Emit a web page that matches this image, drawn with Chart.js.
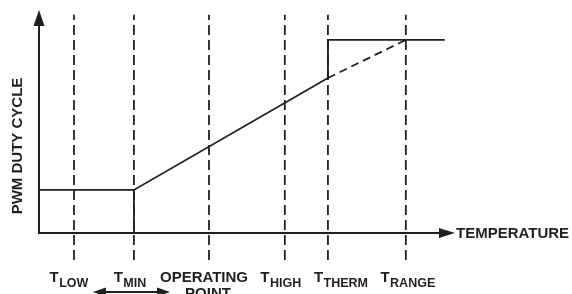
<!DOCTYPE html>
<html>
<head>
<meta charset="utf-8">
<script src="https://cdn.jsdelivr.net/npm/chart.js@4"></script>
<style>
html,body{margin:0;padding:0;background:#fff;}
canvas{display:block;}
</style>
</head>
<body>
<canvas id="c" width="572" height="294"></canvas>
<script>
// ---- data (temperature units on x, duty cycle % on y) ----
const tickNames = ['T', 'T', 'OPERATING', 'T', 'T', 'T'];
const tickSubs  = ['LOW', 'MIN', '', 'HIGH', 'THERM', 'RANGE'];
const tickSecondLine = ['', '', 'POINT', '', '', ''];
const tickPositions = [9.25, 25.1, 44.95, 65.0, 76.4, 97.0];

const dutyX = [0, 25.1, 76.4, 76.4, 107.3];
const dutyY = [22.3, 22.3, 80.3, 100, 100];
const minStepX = [25.1, 25.1];
const minStepY = [0, 22.3];
const extX = [76.4, 97.0];
const extY = [80.3, 100];

const guideLow = -14;
const guideHigh = 113;
const xMin = 0, xMax = 110;
const yMin = -14, yMax = 115.5;

const xAxisTitle = 'TEMPERATURE';
const yAxisTitle = 'PWM DUTY CYCLE';

// ---- styles ----
const INK = '#231f20';
const FONT = '"Liberation Sans", Arial, sans-serif';
const labelNudge = [-5, -4, -5, -4, 13, 2];

const pts = (xs, ys) => xs.map((x, i) => ({x, y: ys[i]}));

const datasets = [];
tickPositions.forEach(p => {
  datasets.push({
    data: [{x: p, y: guideLow}, {x: p, y: guideHigh}],
    borderColor: INK, borderWidth: 1.8, borderDash: [10, 5],
    pointRadius: 0, showLine: true, fill: false
  });
});
datasets.push({data: pts(extX, extY), borderColor: INK, borderWidth: 1.8, borderDash: [8, 5], pointRadius: 0, showLine: true, fill: false});
datasets.push({data: pts(minStepX, minStepY), borderColor: INK, borderWidth: 1.8, pointRadius: 0, showLine: true, fill: false});
datasets.push({data: pts(dutyX, dutyY), borderColor: INK, borderWidth: 1.8, pointRadius: 0, showLine: true, fill: false});

const decor = {
  id: 'decor',
  afterDatasetsDraw(chart) {
    const ctx = chart.ctx;
    const xs = chart.scales.x, ys = chart.scales.y;
    const x0 = xs.getPixelForValue(xMin), xEnd = xs.getPixelForValue(xMax);
    const y0 = ys.getPixelForValue(0), yTop = ys.getPixelForValue(yMax);
    ctx.save();
    ctx.strokeStyle = INK; ctx.fillStyle = INK; ctx.lineWidth = 2;
    ctx.setLineDash([]);
    // x axis
    ctx.beginPath(); ctx.moveTo(x0, y0); ctx.lineTo(xEnd - 14, y0); ctx.stroke();
    ctx.beginPath(); ctx.moveTo(xEnd, y0); ctx.lineTo(xEnd - 16, y0 - 5); ctx.lineTo(xEnd - 16, y0 + 5); ctx.closePath(); ctx.fill();
    // y axis
    ctx.beginPath(); ctx.moveTo(x0, y0 + 1); ctx.lineTo(x0, yTop + 14); ctx.stroke();
    ctx.beginPath(); ctx.moveTo(x0, yTop); ctx.lineTo(x0 - 5.5, yTop + 16); ctx.lineTo(x0 + 5.5, yTop + 16); ctx.closePath(); ctx.fill();

    // axis titles
    ctx.textBaseline = 'alphabetic';
    ctx.font = 'bold 15px ' + FONT;
    ctx.textAlign = 'left';
    ctx.fillText(xAxisTitle, xEnd + 1, y0 + 5.5);
    ctx.save();
    ctx.translate(22, 146);
    ctx.rotate(-Math.PI / 2);
    ctx.textAlign = 'center';
    ctx.font = 'bold 15px ' + FONT;
    ctx.fillText(yAxisTitle, 0, 0);
    ctx.restore();

    // tick labels with subscripts
    tickPositions.forEach((p, i) => {
      const cx = xs.getPixelForValue(p) + labelNudge[i];
      ctx.textAlign = 'left';
      ctx.font = 'bold 15px ' + FONT;
      const wMain = ctx.measureText(tickNames[i]).width;
      ctx.font = 'bold 12.5px ' + FONT;
      const wSub = tickSubs[i] ? ctx.measureText(tickSubs[i]).width + 0.5 : 0;
      const start = cx - (wMain + wSub) / 2;
      ctx.font = 'bold 15px ' + FONT;
      ctx.fillText(tickNames[i], start, 282);
      if (tickSubs[i]) {
        ctx.font = 'bold 12.5px ' + FONT;
        ctx.fillText(tickSubs[i], start + wMain + 0.5, 287);
      }
      if (tickSecondLine[i]) {
        ctx.font = 'bold 15px ' + FONT;
        ctx.textAlign = 'center';
        ctx.fillText(tickSecondLine[i], cx + 4, 298);
      }
    });

    // double arrow between T_MIN and operating point labels
    const aL = xs.getPixelForValue(tickPositions[1]) - 41;
    const aR = xs.getPixelForValue(tickPositions[2]) - 39;
    const ay = 292;
    ctx.lineWidth = 2;
    ctx.beginPath(); ctx.moveTo(aL + 10, ay); ctx.lineTo(aR - 10, ay); ctx.stroke();
    ctx.beginPath(); ctx.moveTo(aL, ay); ctx.lineTo(aL + 13, ay - 4.5); ctx.lineTo(aL + 13, ay + 4.5); ctx.closePath(); ctx.fill();
    ctx.beginPath(); ctx.moveTo(aR, ay); ctx.lineTo(aR - 13, ay - 4.5); ctx.lineTo(aR - 13, ay + 4.5); ctx.closePath(); ctx.fill();
    ctx.restore();
  }
};

new Chart(document.getElementById('c'), {
  type: 'scatter',
  data: {datasets},
  options: {
    responsive: false,
    animation: false,
    devicePixelRatio: 1,
    layout: {padding: {left: 39, right: 117, top: 10, bottom: 34}},
    plugins: {legend: {display: false}, tooltip: {enabled: false}, title: {display: false}},
    scales: {
      x: {type: 'linear', min: xMin, max: xMax, display: false},
      y: {type: 'linear', min: yMin, max: yMax, display: false}
    },
    elements: {line: {tension: 0, borderCapStyle: 'butt'}}
  },
  plugins: [decor]
});
</script>
</body>
</html>
